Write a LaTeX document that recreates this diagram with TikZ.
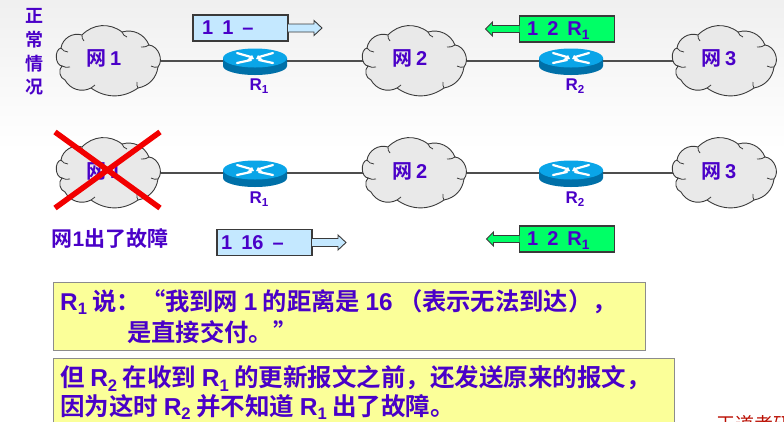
\documentclass[tikz,border=0pt]{standalone}
\usepackage{fontspec}
\setmainfont{Noto Sans CJK SC}[BoldFont={Noto Sans CJK SC Bold}]
\newfontfamily\latin{Liberation Sans}[Scale=1]
\usetikzlibrary{calc}
\definecolor{ink}{HTML}{4A00C8}
\definecolor{pale}{HTML}{C4E8FF}
\definecolor{grn}{HTML}{00FF66}
\definecolor{yel}{HTML}{FBFF99}
\definecolor{cloudfill}{HTML}{E9E9E9}
\definecolor{edgegray}{HTML}{3A3A3A}
\definecolor{routertop}{HTML}{0AA5E8}
\definecolor{routerside}{HTML}{0070A8}
\newcommand{\Rs}[1]{{\latin\bfseries R}\raisebox{-0.2em}{\scalebox{0.68}{\latin\bfseries #1}}}
\newcommand{\Lt}[1]{{\latin\bfseries #1}}
\tikzset{
 x=1pt,y=-1pt,
 lab/.style={text=ink,font=\bfseries\fontsize{20}{20}\selectfont,inner sep=0pt},
 link/.style={draw=edgegray!90,line width=1.1pt},
 packet/.style={draw=edgegray,line width=1.2pt,minimum width=95pt,minimum height=26pt,inner sep=0pt,outer sep=0pt},
 say/.style={draw=black!45,line width=1pt,fill=yel,inner sep=0pt},
 cross/.style={draw=red!95!black,line width=5.5pt},
 cloudpic/.pic={
  \draw[draw=edgegray,line width=0.9pt,fill=cloudfill]
   (-47,-13) to[bend left=50] (-26,-26)
   to[bend left=42] (14,-29)
   to[bend left=42] (41,-16)
   to[bend left=62] (50,6)
   to[bend left=35] (30,27)
   to[bend left=35] (-17,27)
   to[bend left=45] (-43,19)
   to[bend left=60] (-46,5)
   to[bend left=80] (-47,-13) -- cycle;
  \draw[draw=edgegray,line width=0.8pt]
   (-47,-13) to[bend right=25] (-40,-9)
   (-26,-26) to[bend right=25] (-24,-20)
   (14,-29) to[bend right=25] (19,-24)
   (41,-16) to[bend left=20] (33,-14)
   (50,6) to[bend left=20] (43,5)
   (30,27) to[bend left=20] (29,21)
   (-17,27) to[bend left=20] (-13,24)
   (-46,5) to[bend right=20] (-38,6);
 },
 routerpic/.pic={
  \fill[routerside] (-32,0) -- (-32,8) arc[x radius=32,y radius=9,start angle=180,end angle=0] -- (32,0) -- cycle;
  \fill[routertop] (0,0) ellipse[x radius=32,y radius=9.5];
  \draw[white,line width=2.2pt,line cap=round]
   (-18,-5) -- (-4,-1) (-18,5) -- (-4,2) (18,-5) -- (4,-1) (18,5) -- (4,2);
  \fill[white] (-3,-3) -- (-8,2) -- (-1,1) -- cycle;
  \fill[white] (3,-3) -- (8,2) -- (1,1) -- cycle;
 },
}
\begin{document}
\begin{tikzpicture}
\useasboundingbox (0,0) rectangle (784,421);
\shade[top color=black!6,bottom color=white] (0,0) rectangle (784,150);
\fill[white] (0,150) rectangle (784,421);

\coordinate (c1) at (108,61);
\coordinate (c2) at (414,61);
\coordinate (c3) at (724,61);
\coordinate (d1) at (108,173);
\coordinate (d2) at (414,173);
\coordinate (d3) at (724,173);
\coordinate (r1) at (255,58);
\coordinate (r2) at (571,58);
\coordinate (s1) at (255,170);
\coordinate (s2) at (571,170);

\draw[link] (c1) -- (c3);
\draw[link] (d1) -- (d3);

\foreach \c in {c1,c2,c3,d1,d2,d3} \pic at (\c) {cloudpic};
\foreach \r in {r1,r2,s1,s2} \pic at (\r) {routerpic};

\node[lab] (n1) at (104,58) {网\,\Lt{1}};
\node[lab] (n2) at (410,58) {网\,\Lt{2}};
\node[lab] (n3) at (719,58) {网\,\Lt{3}};
\node[lab] (m1) at (104,171) {网\,\Lt{1}};
\node[lab] (m2) at (410,171) {网\,\Lt{2}};
\node[lab] (m3) at (719,171) {网\,\Lt{3}};

\node[lab,font=\bfseries\fontsize{17}{17}\selectfont] (l1) at (259,86) {\Rs{1}};
\node[lab,font=\bfseries\fontsize{17}{17}\selectfont] (l2) at (575,86) {\Rs{2}};
\node[lab,font=\bfseries\fontsize{17}{17}\selectfont] (l3) at (259,199) {\Rs{1}};
\node[lab,font=\bfseries\fontsize{17}{17}\selectfont] (l4) at (575,199) {\Rs{2}};

\node[lab,align=center,font=\bfseries\fontsize{18}{23.5}\selectfont] (v) at (34,52) {正\\常\\情\\况};

\node[packet,fill=pale] (p1) at (240.5,28) {};
\node[lab,anchor=west] (t1) at (202,28) {\Lt{1}\hspace{9pt}\Lt{1}\hspace{9pt}\Lt{–}};
\draw[edgegray,line width=0.9pt,fill=pale]
 (p1.east) ++(0,-4) -- ++(26,0) -- ++(0,-3.5) -- ++(8,7.5) -- ++(-8,7.5) -- ++(0,-3.5) -- ++(-26,0);
\node[packet,fill=grn] (p2) at (567,29) {};
\node[lab,anchor=west] (t2) at (527,31) {\Lt{1}\hspace{9pt}\Lt{2}\hspace{9pt}\Rs{1}};
\draw[edgegray,line width=0.9pt,fill=grn]
 (p2.west) ++(0,-3.5) -- ++(-27,0) -- ++(0,-3.5) -- ++(-7,7) -- ++(7,7) -- ++(0,-3.5) -- ++(27,0);

\node[packet,fill=pale] (p3) at (264.5,242.5) {};
\node[lab,anchor=west] (t3) at (221,243) {\Lt{1}\hspace{9pt}\Lt{16}\hspace{9pt}\Lt{–}};
\draw[edgegray,line width=0.9pt,fill=pale]
 (p3.east) ++(0,-4) -- ++(26,0) -- ++(0,-3.5) -- ++(8,7.5) -- ++(-8,7.5) -- ++(0,-3.5) -- ++(-26,0);
\node[packet,fill=grn] (p4) at (567,239) {};
\node[lab,anchor=west] (t4) at (527,241) {\Lt{1}\hspace{9pt}\Lt{2}\hspace{9pt}\Rs{1}};
\draw[edgegray,line width=0.9pt,fill=grn]
 (p4.west) ++(0,-3.5) -- ++(-26,0) -- ++(0,-3.5) -- ++(-7,7) -- ++(7,7) -- ++(0,-3.5) -- ++(26,0);

\coordinate (xa) at (55,132); \coordinate (xb) at (160,208);
\coordinate (xc) at (160,132); \coordinate (xd) at (55,208);
\draw[cross] (xa) -- (xb);
\draw[cross] (xc) -- (xd);
\node[lab,font=\bfseries\fontsize{21}{21}\selectfont] (f) at (110,238) {网\Lt{1}出了故障};

\node[say,minimum width=592pt,minimum height=68pt,anchor=north west] (b1) at (52.5,281.5) {};
\node[lab,anchor=west,font=\bfseries\fontsize{24.3}{24.3}\selectfont] (b1a) at (60,302) {\Rs{1} 说：“我到网 \Lt{1} 的距离是 \Lt{16} （表示无法到达），};
\node[lab,anchor=west,font=\bfseries\fontsize{24.3}{24.3}\selectfont] (b1b) at (127,332) {是直接交付。”};
\node[say,minimum width=621pt,minimum height=80pt,anchor=north west] (b2) at (52.5,358) {};
\node[lab,anchor=west,font=\bfseries\fontsize{24.5}{24.5}\selectfont] (b2a) at (60,378) {但 \Rs{2} 在收到 \Rs{1} 的更新报文之前，还发送原来的报文，};
\node[lab,anchor=west,font=\bfseries\fontsize{24.5}{24.5}\selectfont] (b2b) at (60,407) {因为这时 \Rs{2} 并不知道 \Rs{1} 出了故障。};

\begin{scope}
\clip (700,400) rectangle (784,421);
\node[text=red!70!black!90!orange,font=\fontsize{19}{19}\selectfont,anchor=west,inner sep=0pt] (w) at (716,424) {王道考研};
\end{scope}
\end{tikzpicture}
\end{document}
